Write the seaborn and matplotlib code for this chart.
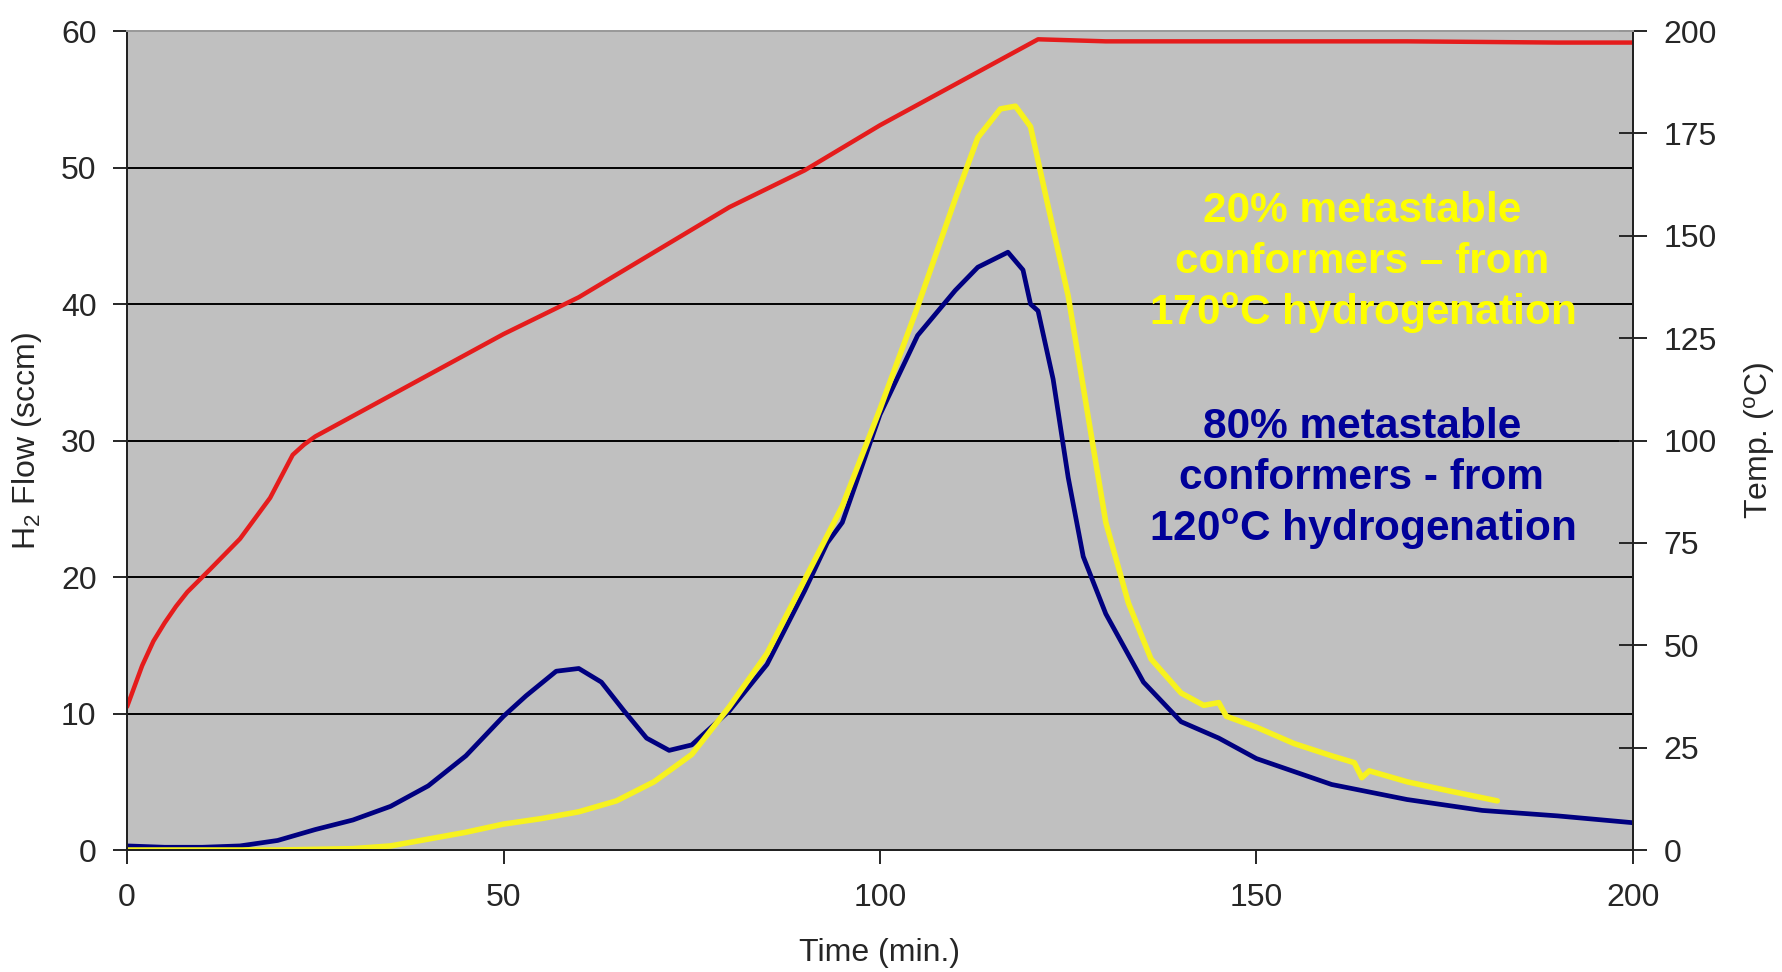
import matplotlib
matplotlib.use('agg')
import numpy as np
import pandas as pd
import seaborn as sns
import matplotlib.pyplot as plt

# temperature ramp (right axis, degC)
temp_time = [0, 1, 2, 3.5, 5, 6.5, 8, 11, 15, 19, 22, 23.5, 25, 35, 50, 60, 70, 80, 90, 100, 110, 115, 121, 130, 150, 170, 190, 200]
temp_vals = [35, 40, 45, 51, 55.5, 59.5, 63, 68.5, 76, 86, 96.5, 99, 101, 111, 126, 135, 146, 157, 166, 177, 187, 192, 198, 197.5, 197.5, 197.5, 197.2, 197.2]

# 20% metastable conformers (yellow)
yel_time = [0, 10, 20, 30, 35, 40, 45, 50, 55, 60, 65, 70, 75, 80, 85, 90, 95, 100, 105, 110, 113, 116, 118, 120, 122, 125, 128, 130, 133,
            136, 140, 143, 145, 146, 150, 155, 160, 163, 164, 165, 170, 175, 182]
yel_flow = [0, 0, 0, 0.1, 0.3, 0.8, 1.3, 1.9, 2.3, 2.8, 3.6, 5.0, 7.0, 10.5, 14.4, 19.8, 25.2, 32.3, 39.8, 47.7, 52.2, 54.3, 54.5, 53.0, 48.0, 40.6, 30.6, 24.0, 18.1,
            14.0, 11.5, 10.6, 10.8, 9.8, 9.0, 7.8, 6.9, 6.4, 5.3, 5.8, 5.0, 4.4, 3.6]

# 80% metastable conformers (navy)
blu_time = [0, 5, 10, 15, 20, 25, 30, 35, 40, 45, 50, 53, 57, 60, 63, 66, 69, 72, 75, 80, 85, 90, 93, 95, 100, 105, 110, 113, 117,
            119, 120, 121, 123, 125, 127, 130, 135, 140, 145, 150, 160, 170, 180, 190, 200]
blu_flow = [0.3, 0.2, 0.2, 0.3, 0.7, 1.5, 2.2, 3.2, 4.7, 6.9, 9.8, 11.3, 13.1, 13.3, 12.3, 10.2, 8.2, 7.3, 7.7, 10.2, 13.6, 19.0, 22.5, 24.0, 31.9, 37.7, 41.0, 42.7, 43.8,
            42.5, 40.0, 39.5, 34.5, 27.3, 21.5, 17.3, 12.3, 9.4, 8.2, 6.7, 4.8, 3.7, 2.9, 2.5, 2.0]

yel_text = ['20% metastable', 'conformers \u2013 from', r'170$^{\mathbf{o}}$C hydrogenation']
blu_text = ['80% metastable', 'conformers - from', r'120$^{\mathbf{o}}$C hydrogenation']

sns.set_style('white')
plt.rcParams['font.family'] = ['Liberation Sans', 'DejaVu Sans']
plt.rcParams['mathtext.fontset'] = 'custom'
plt.rcParams['mathtext.rm'] = 'Liberation Sans'
plt.rcParams['mathtext.bf'] = 'Liberation Sans:bold'
plt.rcParams['mathtext.default'] = 'regular'

fig = plt.figure(figsize=(17.82, 9.72), dpi=100)
ax = fig.add_axes([0.0713, 0.1255, 0.845, 0.8425])
ax.set_facecolor('#c0c0c0')
ax2 = ax.twinx()

sns.lineplot(x=blu_time, y=blu_flow, ax=ax, color='#000080', lw=3.4)
sns.lineplot(x=yel_time, y=yel_flow, ax=ax, color='#f7f21e', lw=4.0)
sns.lineplot(x=temp_time, y=temp_vals, ax=ax2, color='#e51c1c', lw=3.2)

ax.set_xlim(0, 200)
ax.set_ylim(0, 60)
ax2.set_ylim(0, 200)
ax.set_xticks([0, 50, 100, 150, 200])
ax.set_yticks(np.arange(0, 61, 10))
ax2.set_yticks(np.arange(0, 201, 25))

ax.set_axisbelow(True)
ax.yaxis.grid(True, color='black', lw=1.4)
ax.xaxis.grid(False)

for a in (ax, ax2):
    for s in a.spines.values():
        s.set_color('#222222')
        s.set_linewidth(1.4)
ax.spines['top'].set_color('#9a9a9a')
ax2.spines['top'].set_color('#9a9a9a')

ax.tick_params(axis='y', direction='out', length=10, width=1.4, labelsize=23, pad=12, left=True)
ax.tick_params(axis='x', direction='out', length=10, width=1.4, labelsize=23, pad=14, bottom=True)
ax2.tick_params(axis='y', direction='inout', length=20, width=1.4, labelsize=23, pad=12, right=True)

ax.set_xlabel('Time (min.)', fontsize=23, labelpad=18)
ax.set_ylabel('H$_2$ Flow (sccm)', fontsize=23, labelpad=12)
ax2.set_ylabel('Temp. ($^{o}$C)', fontsize=23, labelpad=18)

for i, line in enumerate(yel_text):
    ax.text(164, 46.8 - 3.75 * i, line, color='#ffff00', fontsize=30.5, fontweight='bold',
            ha='center', va='center')
for i, line in enumerate(blu_text):
    ax.text(164, 31.0 - 3.75 * i, line, color='#000099', fontsize=30.5, fontweight='bold',
            ha='center', va='center')

fig.savefig('out.png', dpi=100)
plt.close()
